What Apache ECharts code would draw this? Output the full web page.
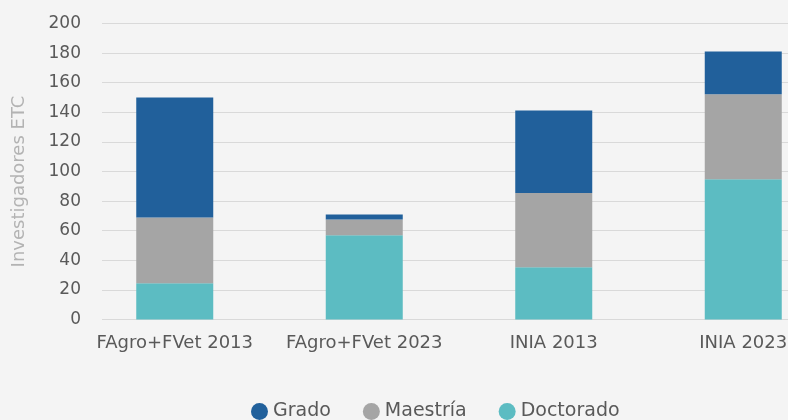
<!DOCTYPE html>
<html>
<head>
<meta charset="utf-8">
<script src="https://cdn.jsdelivr.net/npm/echarts@6/dist/echarts.min.js"></script>
<style>
  html, body { margin: 0; padding: 0; background: #f4f4f4; }
  #chart { width: 788px; height: 420px; }
</style>
</head>
<body>
<div id="chart"></div>
<script>
// categories and values
const categories = ['FAgro+FVet 2013', 'FAgro+FVet 2023', 'INIA 2013', 'INIA 2023']
const doctorado = [24.5, 57, 35.3, 94.7]
const maestria = [44.5, 10.5, 50.2, 57.5]
const grado = [81, 3.5, 55.8, 28.8]
const yTicks = [0, 20, 40, 60, 80, 100, 120, 140, 160, 180, 200]

const fontFamily = 'DejaVu Sans'
const colors = { grado: '#21609b', maestria: '#a5a5a5', doctorado: '#5cbcc2' }

const chart = echarts.init(document.getElementById('chart'))

const barSeries = (name, data, color) => ({
    name: name,
    type: 'bar',
    stack: 'total',
    xAxisIndex: 1,
    yAxisIndex: 1,
    barWidth: 77,
    data: data,
    itemStyle: { color: color }
})

chart.setOption({
    backgroundColor: '#f4f4f4',
    textStyle: { fontFamily: fontFamily },
    grid: [
        // grid holding the value axis and gridlines
        { left: 102, right: 0, top: 23.5, bottom: 100.5, outerBoundsMode: 'none' },
        // grid holding the bars (category band runs past the right edge)
        { left: 80, width: 758, top: 23.5, bottom: 100.5, outerBoundsMode: 'none' }
    ],
    legend: {
        left: 246,
        top: 397,
        icon: 'circle',
        itemWidth: 17,
        itemHeight: 17,
        itemGap: 32,
        data: ['Grado', 'Maestría', 'Doctorado'],
        textStyle: { fontSize: 19, color: '#595959', fontFamily: fontFamily }
    },
    xAxis: [
        { gridIndex: 0, type: 'category', data: categories, show: false },
        {
            gridIndex: 1,
            type: 'category',
            data: categories,
            axisLine: { show: false },
            axisTick: { show: false },
            axisLabel: { color: '#595959', fontSize: 18, margin: 15, interval: 0, fontFamily: fontFamily }
        }
    ],
    yAxis: [
        {
            gridIndex: 0,
            type: 'value',
            min: yTicks[0],
            max: yTicks[yTicks.length - 1],
            interval: yTicks[1] - yTicks[0],
            name: 'Investigadores ETC',
            nameLocation: 'middle',
            nameRotate: 90,
            nameGap: 74,
            nameTextStyle: { color: '#b3b3b3', fontSize: 18, padding: [0, 20, 0, 0], fontFamily: fontFamily },
            axisLine: { show: false },
            axisTick: { show: false },
            axisLabel: { color: '#595959', fontSize: 17, margin: 21, fontFamily: fontFamily },
            splitLine: { lineStyle: { color: '#d9d9d9', width: 1 } }
        },
        { gridIndex: 1, type: 'value', min: 0, max: 200, show: false }
    ],
    series: [
        barSeries('Doctorado', doctorado, colors.doctorado),
        barSeries('Maestría', maestria, colors.maestria),
        barSeries('Grado', grado, colors.grado)
    ]
})
</script>
</body>
</html>
